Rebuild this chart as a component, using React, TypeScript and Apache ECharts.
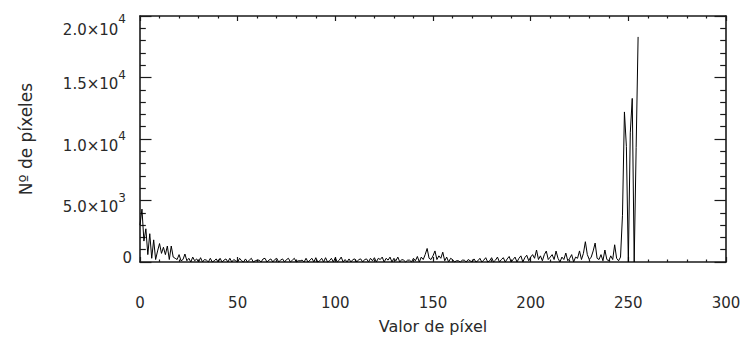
import React, { useEffect, useRef } from "react";
import * as echarts from "echarts";

// Histogram counts for pixel values 0..255
const counts: number[] = [
  3000, 4300, 1700, 2700, 600, 2300, 300, 1800, 200, 900,
  1500, 700, 1200, 600, 1300, 200, 1300, 400, 300, 200,
  600, 100, 200, 650, 100, 300, 0, 400, 100, 250,
  0, 350, 0, 200, 150, 0, 300, 0, 100, 250,
  0, 300, 0, 150, 250, 0, 300, 0, 200, 100,
  0, 300, 100, 0, 250, 0, 150, 300, 0, 100,
  150, 150, 0, 250, 300, 0, 150, 250, 0, 200,
  300, 0, 150, 250, 0, 200, 300, 0, 150, 300,
  0, 100, 100, 150, 0, 300, 0, 150, 300, 0,
  350, 0, 100, 300, 0, 350, 0, 100, 300, 0,
  350, 0, 150, 400, 0, 200, 0, 250, 0, 200,
  250, 0, 200, 250, 0, 200, 250, 0, 300, 100,
  350, 0, 300, 200, 400, 0, 300, 150, 400, 0,
  300, 100, 400, 0, 200, 150, 0, 150, 150, 0,
  300, 100, 450, 0, 400, 200, 600, 1100, 300, 200,
  500, 900, 200, 500, 300, 800, 100, 400, 0, 300,
  200, 0, 100, 100, 0, 150, 150, 0, 200, 100,
  0, 250, 0, 100, 300, 0, 150, 350, 0, 100,
  350, 0, 150, 400, 0, 200, 350, 0, 250, 450,
  0, 200, 400, 0, 300, 500, 0, 350, 550, 100,
  400, 600, 300, 975, 200, 500, 100, 600, 890, 200,
  400, 600, 200, 890, 300, 0, 400, 200, 730, 100,
  300, 600, 0, 400, 300, 900, 200, 700, 1650, 600,
  200, 400, 900, 1540, 300, 200, 600, 100, 975, 200,
  100, 500, 200, 1400, 300, 100, 400, 3800, 12200, 9400,
  0, 10500, 13300, 0, 9300, 18300,
];

const xTickValues = [0, 50, 100, 150, 200, 250, 300];
const yTickValues = [0, 5000, 10000, 15000, 20000];
const yTickMantissa = ["0", "5.0", "1.0", "1.5", "2.0"];
const yTickExponent = ["", "3", "4", "4", "4"];

const xTitle = "Valor de píxel";
const yTitle = "Nº de píxeles";

export default function App() {
  const ref = useRef<HTMLDivElement>(null);
  useEffect(() => {
    if (!ref.current) return;
    const chart = echarts.init(ref.current, undefined, { renderer: "svg" });
    const font = "DejaVu Sans";
    const axisColor = "#1a1a1a";
    const textColor = "#2a2a2a";
    const data = counts.map((v, i) => [i, v]);

    const xCommon = {
      type: "value" as const,
      min: xTickValues[0],
      max: xTickValues[xTickValues.length - 1],
      interval: 50,
      splitLine: { show: false },
      axisLine: { show: true, onZero: false, lineStyle: { color: axisColor, width: 1.6 } },
      axisTick: { show: true, inside: true, length: 5, lineStyle: { color: axisColor, width: 1.2 } },
      minorTick: { show: true, splitNumber: 5, length: 2.5, lineStyle: { color: axisColor, width: 1.2 } },
    };
    const yCommon = {
      type: "value" as const,
      min: yTickValues[0],
      max: yTickValues[yTickValues.length - 1],
      interval: 5000,
      splitLine: { show: false },
      axisLine: { show: true, onZero: false, lineStyle: { color: axisColor, width: 1.6 } },
      axisTick: { show: true, inside: true, length: 11.5, lineStyle: { color: axisColor, width: 1.2 } },
      minorTick: { show: true, splitNumber: 5, length: 5.8, lineStyle: { color: axisColor, width: 1.2 } },
    };

    const tok = (size: number, lh: number, pad: number[]) => ({
      fontFamily: font,
      fontSize: size,
      lineHeight: lh,
      color: textColor,
      padding: pad,
    });

    chart.setOption({
      animation: false,
      backgroundColor: "#ffffff",
      grid: {
        left: 140,
        right: 21,
        top: 16,
        bottom: 81,
        containLabel: false,
        outerBoundsMode: "none",
      },
      xAxis: [
        {
          ...xCommon,
          position: "bottom",
          name: xTitle,
          nameLocation: "middle",
          nameGap: 56,
          nameTextStyle: { fontFamily: font, fontSize: 16, color: textColor },
          axisLabel: {
            show: true,
            margin: 33,
            fontFamily: font,
            fontSize: 15,
            color: textColor,
          },
        },
        {
          ...xCommon,
          position: "top",
          axisLabel: { show: false },
        },
      ],
      yAxis: [
        {
          ...yCommon,
          position: "left",
          name: yTitle,
          nameLocation: "middle",
          nameGap: 106,
          nameTextStyle: { fontFamily: font, fontSize: 17, color: textColor },
          axisLabel: {
            show: true,
            margin: 8,
            fontFamily: font,
            color: textColor,
            formatter: (v: number) => {
              const i = yTickValues.indexOf(v);
              if (i < 0) return "";
              if (yTickExponent[i] === "") return "{z|" + yTickMantissa[i] + "}";
              const top = i === yTickValues.length - 1;
              return top
                ? "{ta|" + yTickMantissa[i] + "×10}{ts|" + yTickExponent[i] + "}"
                : "{a|" + yTickMantissa[i] + "×10}{s|" + yTickExponent[i] + "}";
            },
            rich: {
              z: tok(15, 15, [0, 0, 8, 0]),
              a: tok(15, 15, [13, 0, 0, 0]),
              s: tok(12, 12, [5, 6, 11, 0]),
              ta: tok(15, 15, [27, 0, 0, 0]),
              ts: tok(12, 12, [18, 6, 12, 0]),
            },
          },
        },
        {
          ...yCommon,
          position: "right",
          axisLabel: { show: false },
        },
      ],
      series: [
        {
          type: "line",
          xAxisIndex: 0,
          yAxisIndex: 0,
          data,
          showSymbol: false,
          symbol: "none",
          lineStyle: { color: "#000000", width: 1 },
          z: 3,
        },
      ],
    });
    return () => chart.dispose();
  }, []);
  return (
    <div
      ref={ref}
      style={{ position: "fixed", left: 0, top: 0, width: 747, height: 343, background: "#fff" }}
    />
  );
}
